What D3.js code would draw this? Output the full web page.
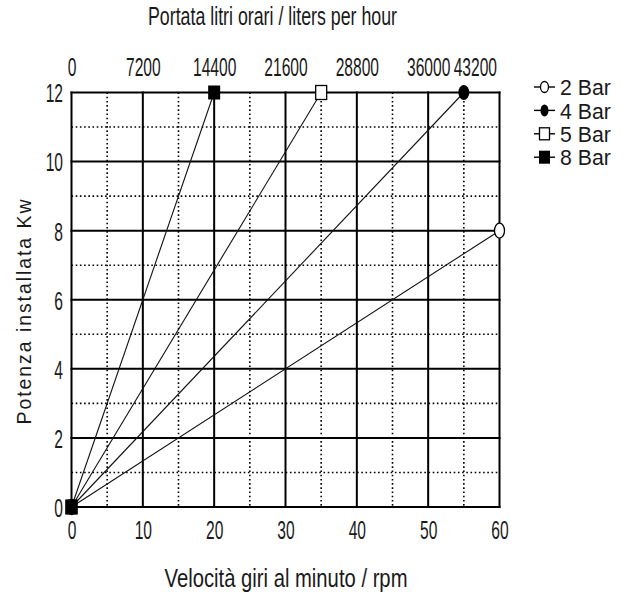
<!DOCTYPE html>
<html><head><meta charset="utf-8">
<script src="https://cdn.jsdelivr.net/npm/d3@7"></script>
<style>
html,body{margin:0;padding:0;background:#fff;}
text{font-family:"Liberation Sans",Arial,sans-serif;fill:#1a1a1a;}
</style></head>
<body><svg id="c" width="628" height="596"></svg>
<script>
const seriesNames = ["2 Bar","4 Bar","5 Bar","8 Bar"];
const seriesRpm = [[0,60],[0,55],[0,35],[0,20]];
const seriesKw = [[0,8],[0,12],[0,12],[0,12]];
const seriesMarker = ["openCircle","filledCircle","openSquare","filledSquare"];
const xTicks = [0,10,20,30,40,50,60];
const xMinorTicks = [5,15,25,35,45,55];
const yTicks = [0,2,4,6,8,10,12];
const yMinorTicks = [1,3,5,7,9,11];
const topTickLabels = ["0","7200","14400","21600","28800","36000","43200"];
const litersPerRpm = 720;

const svg = d3.select("#c");
const x = d3.scaleLinear().domain([0,60]).range([71.5,499.5]);
const y = d3.scaleLinear().domain([0,12]).range([507,92.5]);
const FS = 26, SX = 0.6; // tall narrow lettering

// minor dotted grid
const g = svg.append("g");
g.selectAll("line.vx").data(xMinorTicks).join("line")
 .attr("x1",d=>x(d)).attr("x2",d=>x(d)).attr("y1",y(12)).attr("y2",y(0))
 .attr("stroke","#000").attr("stroke-width",1.6).attr("stroke-dasharray","1.6,2.6");
g.selectAll("line.hy").data(yMinorTicks).join("line")
 .attr("y1",d=>y(d)).attr("y2",d=>y(d)).attr("x1",x(0)).attr("x2",x(60))
 .attr("stroke","#000").attr("stroke-width",1.6).attr("stroke-dasharray","1.6,2.6");
// major grid
g.selectAll("line.mx").data(xTicks).join("line")
 .attr("x1",d=>x(d)).attr("x2",d=>x(d)).attr("y1",y(12)-1).attr("y2",y(0)+1)
 .attr("stroke","#000").attr("stroke-width",2);
g.selectAll("line.my").data(yTicks).join("line")
 .attr("y1",d=>y(d)).attr("y2",d=>y(d)).attr("x1",x(0)-1).attr("x2",x(60)+1)
 .attr("stroke","#000").attr("stroke-width",2);

function narrow(sel){ sel.attr("font-size",FS).attr("font-family",null).attr("transform",`scale(${SX},1)`); }

// bottom axis labels
const bottomAxis = svg.append("g").attr("transform",`translate(0,${y(0)})`)
 .call(d3.axisBottom(x).tickValues(xTicks).tickSize(0).tickPadding(0).tickFormat(d3.format("d")));
bottomAxis.select(".domain").remove();
bottomAxis.selectAll("text").call(narrow).attr("y",32).attr("dy",null);
// left axis labels
const leftAxis = svg.append("g").attr("transform",`translate(63,0)`)
 .call(d3.axisLeft(y).tickValues(yTicks).tickSize(0).tickPadding(0).tickFormat(d3.format("d")));
leftAxis.select(".domain").remove();
leftAxis.selectAll("text").call(narrow).attr("x",0).attr("dy","0.36em");
// top axis labels (liters per hour)
const xTop = d3.scaleLinear().domain([0,60*litersPerRpm]).range(x.range());
const topAxis = svg.append("g").attr("transform",`translate(0,76)`)
 .call(d3.axisTop(xTop).tickValues(xTicks.map(v=>v*litersPerRpm)).tickSize(0).tickPadding(0)
   .tickFormat((d,i)=>topTickLabels[i]));
topAxis.select(".domain").remove();
topAxis.selectAll("text").call(narrow).attr("y",0).attr("dy",null)
 .attr("text-anchor",(d,i)=>i===topTickLabels.length-1?"end":"middle")
 .attr("x",(d,i)=>i===topTickLabels.length-1?-3/SX:0);

// titles
svg.append("text").attr("x",272.5).attr("y",25).attr("text-anchor","middle").attr("font-size",FS)
 .attr("textLength",249).attr("lengthAdjust","spacingAndGlyphs")
 .text("Portata litri orari / liters per hour");
svg.append("text").attr("x",286).attr("y",587).attr("text-anchor","middle").attr("font-size",FS)
 .attr("textLength",243).attr("lengthAdjust","spacingAndGlyphs")
 .text("Velocità giri al minuto / rpm");
svg.append("text").attr("transform","translate(31,312) rotate(-90)").attr("text-anchor","middle")
 .attr("font-size",19.5).attr("textLength",225).attr("lengthAdjust","spacing")
 .text("Potenza installata Kw");

// markers
function drawMarker(sel, type, cx, cy, w, h){
  if(type==="openCircle") sel.append("ellipse").attr("cx",cx).attr("cy",cy).attr("rx",w/2).attr("ry",h/2).attr("fill","#fff").attr("stroke","#000").attr("stroke-width",1.3);
  else if(type==="filledCircle") sel.append("ellipse").attr("cx",cx).attr("cy",cy).attr("rx",w/2).attr("ry",h/2).attr("fill","#000");
  else if(type==="openSquare") sel.append("rect").attr("x",cx-w/2).attr("y",cy-h/2).attr("width",w).attr("height",h).attr("fill","#fff").attr("stroke","#000").attr("stroke-width",1.3);
  else sel.append("rect").attr("x",cx-w/2).attr("y",cy-h/2).attr("width",w).attr("height",h).attr("fill","#000");
}
const markerSize = {openCircle:[10,15],filledCircle:[11,15],openSquare:[11,14],filledSquare:[12,14]};
const legendSize = {openCircle:[8,11],filledCircle:[8,12],openSquare:[10,12],filledSquare:[11,13]};

const line = d3.line().x(d=>x(d[0])).y(d=>y(d[1]));
const plot = svg.append("g");
seriesNames.forEach((n,i)=>{
  const pts = seriesRpm[i].map((r,j)=>[r,seriesKw[i][j]]);
  plot.append("path").attr("d",line(pts)).attr("fill","none").attr("stroke","#111").attr("stroke-width",1.1);
});
seriesNames.forEach((n,i)=>{
  const pts = seriesRpm[i].map((r,j)=>[r,seriesKw[i][j]]);
  const s = markerSize[seriesMarker[i]];
  pts.forEach(p=>drawMarker(plot, seriesMarker[i], x(p[0]), y(p[1]), s[0], s[1]));
});

// legend
const LSX = 1.12, LSY = 1.2, LFS = 19;
const leg = svg.append("g");
seriesNames.forEach((n,i)=>{
  const ly = 87 + i*23.4;
  leg.append("line").attr("x1",534).attr("x2",555).attr("y1",ly).attr("y2",ly).attr("stroke","#000").attr("stroke-width",1.4);
  const s = legendSize[seriesMarker[i]];
  drawMarker(leg, seriesMarker[i], 544.5, ly, s[0], s[1]);
  leg.append("text").attr("x",560/LSX).attr("y",ly/LSY).attr("dy","0.36em").attr("font-size",LFS)
   .attr("transform",`scale(${LSX},${LSY})`).text(n);
});
</script></body></html>
